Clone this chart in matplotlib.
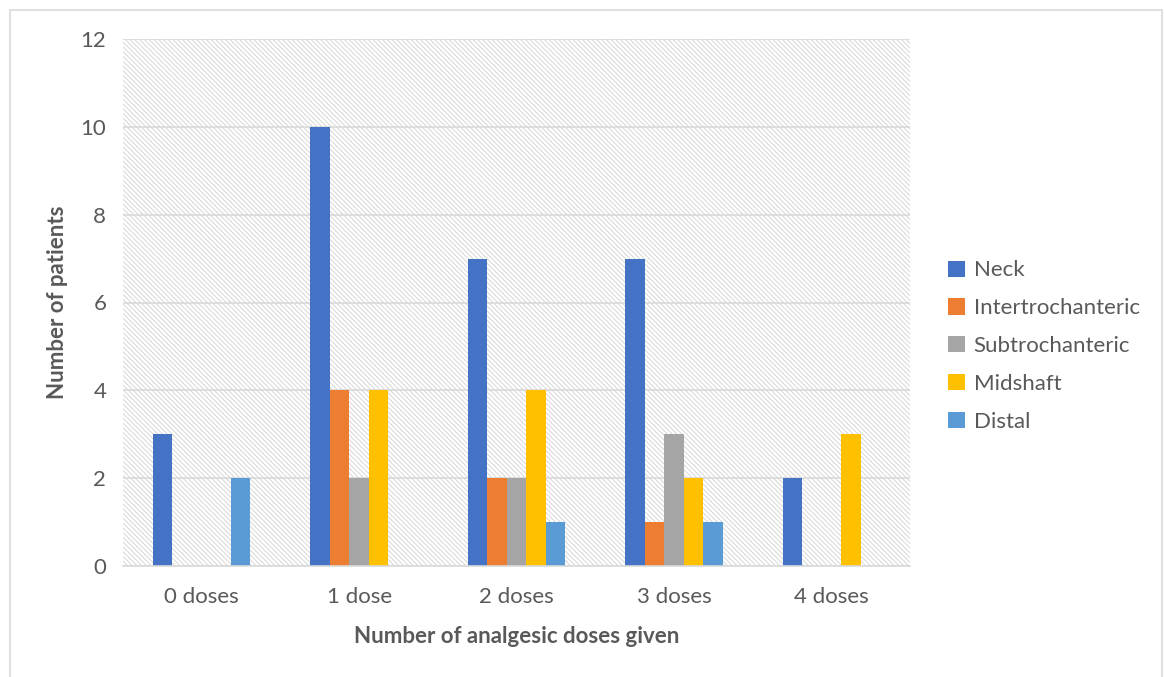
import matplotlib
matplotlib.use("Agg")
import matplotlib.pyplot as plt
from matplotlib.patches import Rectangle
import numpy as np

plt.rcParams['font.family'] = ['Lato', 'DejaVu Sans']
plt.rcParams['hatch.linewidth'] = 0.7
plt.rcParams['hatch.color'] = '#d6d6d6'

categories = ["0 doses", "1 dose", "2 doses", "3 doses", "4 doses"]
series_names = ["Neck", "Intertrochanteric", "Subtrochanteric", "Midshaft", "Distal"]
neck = [3, 10, 7, 7, 2]
intertrochanteric = [0, 4, 2, 1, 0]
subtrochanteric = [0, 2, 2, 3, 0]
midshaft = [0, 4, 4, 2, 3]
distal = [2, 0, 1, 1, 0]
series_values = [neck, intertrochanteric, subtrochanteric, midshaft, distal]
colors = ["#4472C4", "#ED7D31", "#A5A5A5", "#FFC000", "#5B9BD5"]

text_color = "#595959"
fs = 16

fig = plt.figure(figsize=(11.64, 6.77), dpi=100)
W, H = 1164, 677
ax = fig.add_axes([123 / W, 1 - 566 / H, (910 - 123) / W, (566 - 39) / H])

# outer chart border
fig.add_artist(Rectangle((10 / W, -0.01), (1162 - 10) / W, (1 - 10 / H) + 0.01,
                         transform=fig.transFigure, fill=False,
                         edgecolor="#d9d9d9", linewidth=1.2))

# patterned plot background
ax.add_patch(Rectangle((0, 0), 1, 1, transform=ax.transAxes, facecolor="white",
                       hatch="\\" * 7, edgecolor="#d6d6d6", linewidth=0, zorder=0))

x = np.arange(len(categories))
bw = 0.124
for i, (name, vals, c) in enumerate(zip(series_names, series_values, colors)):
    offs = (i - 2) * bw
    ax.bar(x + offs, vals, width=bw, color=c, label=name, zorder=3)

ax.set_xlim(-0.5, len(categories) - 0.5)
ax.set_ylim(0, 12)
ax.set_yticks(range(0, 13, 2))
ax.set_xticks(x)
ax.set_xticklabels(categories)
ax.yaxis.grid(True, color="#d9d9d9", linewidth=1.2, zorder=1)
ax.set_axisbelow(True)
for s in ["top", "right", "left"]:
    ax.spines[s].set_visible(False)
ax.spines["bottom"].set_color("#d9d9d9")
ax.spines["bottom"].set_linewidth(1.2)
ax.spines["bottom"].set_zorder(4)
ax.tick_params(axis="both", length=0, labelsize=fs, colors=text_color)
ax.tick_params(axis="x", pad=15)
ax.tick_params(axis="y", pad=12)

ax.set_xlabel("Number of analgesic doses given", fontsize=fs, fontweight="bold",
              color=text_color, labelpad=14)
ax.set_ylabel("Number of patients", fontsize=fs, fontweight="bold",
              color=text_color, labelpad=9)

fig.legend(loc="center left", bbox_to_anchor=(928 / W, 1 - 346 / H), frameon=False,
           fontsize=fs, labelcolor=text_color, handlelength=0.75, handleheight=0.75,
           handletextpad=0.4, labelspacing=0.8)

fig.savefig("out.png", dpi=100)
